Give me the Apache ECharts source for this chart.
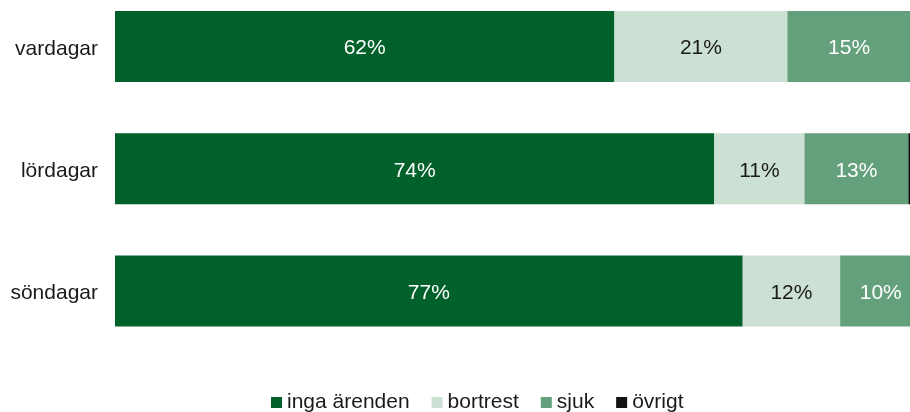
<!DOCTYPE html>
<html>
<head>
<meta charset="utf-8">
<script src="https://cdn.jsdelivr.net/npm/echarts@6/dist/echarts.min.js"></script>
<style>html,body{margin:0;padding:0;background:#fff}#c{width:910px;height:412px}</style>
</head>
<body>
<div id="c"></div>
<script>
const categories = ['vardagar', 'lördagar', 'söndagar'];
const seriesNames = ['inga ärenden', 'bortrest', 'sjuk', 'övrigt'];
const ingaArenden = [61.5, 73.8, 77.3];
const bortrest = [21.3, 11.1, 12.0];
const sjuk = [15.2, 12.8, 10.0];
const ovrigt = [2.0, 2.3, 0.7];

const colors = ['#02612b', '#cde0d4', '#65a07d', '#111111'];
const labelColors = ['#ffffff', '#1a1a1a', '#ffffff', null];
const values = [ingaArenden, bortrest, sjuk, ovrigt];

const chart = echarts.init(document.getElementById('c'), null, {renderer: 'canvas'});
chart.setOption({
  animation: false,
  textStyle: {fontFamily: 'Liberation Sans, Arial, sans-serif'},
  grid: {left: 115, right: 0, top: 46.5, bottom: 121, containLabel: false},
  xAxis: {type: 'value', min: 0, max: 97.9, show: false},
  yAxis: {
    type: 'category', data: categories, inverse: true, boundaryGap: false,
    axisLine: {show: false}, axisTick: {show: false}, splitLine: {show: false},
    axisLabel: {
      margin: 17,
      formatter: v => '{a|' + v + '}',
      rich: {a: {fontSize: 21, color: '#1a1a1a', padding: [5, 0, 0, 0], fontFamily: 'Liberation Sans, Arial, sans-serif'}}
    }
  },
  legend: {
    left: 266, top: 387,
    itemWidth: 11, itemHeight: 11, itemGap: 22,
    icon: 'rect',
    textStyle: {fontSize: 21, color: '#1a1a1a'},
    data: seriesNames
  },
  series: seriesNames.map((n, i) => ({
    name: n, type: 'bar', stack: 'all',
    data: values[i],
    barWidth: 71,
    clip: false,
    itemStyle: {color: colors[i]},
    label: labelColors[i] ? {
      show: true, position: 'inside', fontSize: 21, color: labelColors[i],
      offset: [0, 2],
      formatter: p => Math.round(p.value) + '%'
    } : {show: false}
  }))
});
</script>
</body>
</html>
